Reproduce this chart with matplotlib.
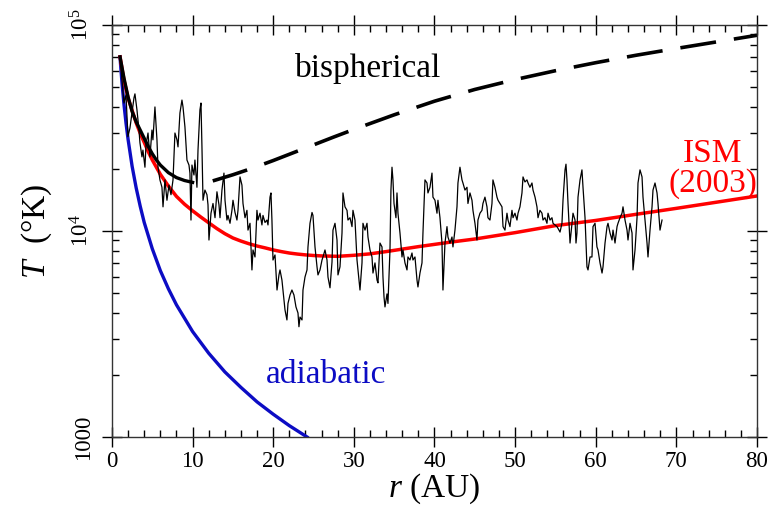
import numpy as np
import matplotlib
matplotlib.use("Agg")
import matplotlib.pyplot as plt
from matplotlib.ticker import LogLocator, NullFormatter

plt.rcParams["font.family"] = ["Liberation Serif", "DejaVu Serif"]
plt.rcParams["mathtext.fontset"] = "custom"
plt.rcParams["mathtext.rm"] = "Liberation Serif"
plt.rcParams["mathtext.it"] = "Liberation Serif:italic"

# -------- observed temperature (noisy trace) --------
r_obs = [
    0.99, 1.24, 1.49, 1.74, 1.98, 2.23, 2.48, 2.73, 2.85, 3.10,
    3.35, 3.47, 3.72, 3.84, 4.09, 4.22, 4.47, 4.71, 4.96, 5.08,
    5.33, 5.58, 5.71, 5.95, 6.20, 6.33, 6.57, 6.82, 7.07, 7.32,
    7.57, 7.81, 8.06, 8.19, 8.43, 8.68, 8.81, 9.05, 9.30, 9.55,
    9.67, 9.80, 9.92, 10.17, 10.29, 10.54, 10.67, 10.91, 11.04, 11.16,
    11.29, 11.53, 11.78, 11.91, 12.03, 12.28, 12.53, 12.78, 13.02, 13.27,
    13.40, 13.64, 13.89, 14.02, 14.26, 14.39, 14.64, 14.88,
    15.01, 15.26, 15.50, 15.63, 15.88, 16.12, 16.25, 16.50, 16.74, 16.87,
    17.12, 17.36, 17.49, 17.74, 17.98, 18.11, 18.36, 18.60, 18.73, 18.98,
    19.22, 19.35, 19.60, 19.72, 19.84, 19.97, 20.22, 20.47, 20.71, 20.84,
    21.08, 21.46, 21.70, 21.83, 22.08, 22.32, 22.57, 22.82, 23.07, 23.19,
    23.32, 23.57, 23.69, 23.94, 24.19, 24.31, 24.56, 24.81, 24.93, 25.18,
    25.43, 25.55, 25.80, 26.05, 26.17, 26.42, 26.67, 26.79, 27.04, 27.29,
    27.41, 27.66, 27.91, 28.03, 28.28, 28.53, 28.65, 28.90, 29.15, 29.27,
    29.52, 29.77, 29.89, 30.14, 30.39, 30.51, 30.76, 31.01, 31.13, 31.38,
    31.63, 31.75, 32.00, 32.25, 32.37, 32.62, 32.87, 32.99, 33.24, 33.49,
    33.61, 33.74, 33.86, 34.11, 34.23, 34.48, 34.60, 34.73, 34.85, 34.98,
    35.22, 35.35, 35.47, 35.72, 35.97, 36.09, 36.34, 36.59, 36.71, 36.96,
    37.21, 37.33, 37.58, 37.83, 37.95, 38.20, 38.45, 38.57, 38.82, 39.07,
    39.19, 39.44, 39.69, 39.81, 40.06, 40.31, 40.43, 40.68, 40.93, 41.05,
    41.18, 41.30, 41.55, 41.67, 41.92, 42.17, 42.29, 42.54, 42.79, 42.91,
    43.16, 43.41, 43.53, 43.78, 44.03, 44.15, 44.40, 44.65, 44.77, 45.02,
    45.27, 45.39, 45.64, 45.89, 46.01, 46.26, 46.51, 46.63, 46.88, 47.13,
    47.25, 47.50, 47.75, 47.88, 48.12, 48.37, 48.50, 48.74, 48.99, 49.12,
    49.36, 49.61, 49.74, 49.98, 50.23, 50.36, 50.60, 50.85, 50.98, 51.22,
    51.47, 51.60, 51.84, 52.09, 52.22, 52.47, 52.71, 52.84, 53.08, 53.33,
    53.46, 53.70, 53.95, 54.08, 54.33, 54.57, 54.70, 54.95, 55.19, 55.32,
    55.57, 55.81, 55.94, 56.19, 56.31, 56.43, 56.56, 56.81, 57.05, 57.18,
    57.43, 57.55, 57.67, 57.80, 58.05, 58.29, 58.42, 58.67, 58.91, 59.04,
    59.29, 59.53, 59.66, 59.91, 60.15, 60.28, 60.53, 60.78, 60.90, 61.15,
    61.40, 61.52, 61.77, 62.02, 62.14, 62.39, 62.64, 62.76, 63.01, 63.26,
    63.38, 63.63, 63.88, 64.00, 64.25, 64.50, 64.62, 64.87, 65.12, 65.24,
    65.49, 65.74, 65.86, 66.11, 66.36, 66.48, 66.73, 66.98, 67.10, 67.35,
    67.60, 67.72, 67.97, 68.22,
]
T_obs = [
    69900, 54100, 41800, 45800, 28700, 31600, 37400, 44300, 46300, 38700,
    30900, 26800, 22900, 24700, 20400, 26200, 29900, 22900, 30900, 27700,
    40000, 27700, 20400, 17700, 16300, 13100, 17700, 14100, 16700, 15000,
    17700, 29900, 27700, 25600, 37400, 43200, 40000, 32000, 22100, 20900,
    19100, 11300, 20900, 18700, 22100, 16300, 24700, 38700, 41800, 25600,
    14100, 15800, 15000, 13400, 9040, 12200, 13600, 11600, 15500, 13400,
    11600, 15800, 19100, 14100, 11300, 11900, 10900, 12600,
    14100, 12300, 11300, 12600, 18300, 16700, 13600, 11600, 12600, 10100,
    10900, 6470, 8090, 7480, 12600, 11300, 12200, 10700, 11900, 11000,
    11300, 10700, 14600, 15300, 11300, 7230, 7650, 5170, 6120, 6470,
    5780, 4140, 3700, 4450, 4890, 5170, 4890, 4280, 4000, 3430,
    3820, 3700, 5170, 5980, 6470, 8370, 10900, 12300, 11900, 8370,
    6700, 6120, 6470, 7230, 7480, 8090, 7230, 5980, 5300, 7070,
    10100, 10900, 9040, 6120, 6700, 9780, 15300, 13100, 12600, 11300,
    11600, 10500, 12600, 11300, 7230, 6470, 5170, 7000, 10900, 10100,
    10900, 9350, 8090, 7480, 6250, 7000, 5780, 5600, 8740, 8370,
    5980, 4780, 4280, 4950, 4450, 8090, 15800, 20400, 17700, 13600,
    11600, 15300, 12200, 9780, 7480, 8090, 7000, 6470, 7480, 7230,
    7820, 7230, 7480, 5780, 5350, 6250, 7000, 9780, 17700, 17100,
    15300, 16300, 19100, 14600, 14100, 12200, 14100, 11600, 8740, 5170,
    6700, 8740, 10500, 9350, 8740, 9350, 8370, 10100, 13100, 17100,
    20400, 17700, 17100, 15800, 16300, 13600, 15300, 14100, 12600, 10900,
    9040, 11300, 12200, 12600, 13600, 14600, 13100, 11600, 11300, 13600,
    17700, 16300, 14600, 14100, 13600, 13100, 10500, 10100, 12200, 11300,
    10500, 12600, 11600, 12200, 11300, 12200, 13100, 15300, 18300, 17300,
    17700, 17100, 16300, 17100, 15800, 14600, 13100, 11600, 12600, 12200,
    11300, 11600, 10900, 12200, 11300, 11600, 10900, 10700, 10500, 10300,
    9880, 10900, 14100, 19800, 21100, 17700, 13600, 8740, 10900, 12200,
    11300, 8740, 9780, 14600, 17700, 19800, 16300, 11600, 6700, 6470,
    7480, 7480, 10500, 10900, 8370, 8090, 7000, 6250, 6700, 8740,
    10500, 10900, 9780, 9040, 10100, 8740, 10500, 10900, 11600, 12200,
    13100, 11300, 10100, 9040, 10900, 9780, 6470, 8090, 11600, 17100,
    19800, 18300, 14600, 11300, 8740, 7480, 10100, 13100, 15800, 17100,
    15300, 13600, 10100, 11300,
]

# -------- model curves --------
r_ism = [1, 1.5, 2, 2.5, 3, 3.5, 4, 4.5, 5, 5.5, 6, 7, 8, 9, 10, 11, 12, 13,
         14, 15, 16, 17, 18, 19, 20, 21, 22, 23, 24, 25, 26, 28, 30, 32, 34,
         36, 38, 40, 42, 45, 50, 55, 60, 65, 70, 75, 80]
T_ism = [70000, 53700, 44160, 38460, 33500, 29850, 26920, 24270, 22130,
         20420, 18840, 16520, 14720, 13490, 12530, 11700, 10960, 10280, 9705,
         9247, 8933, 8670, 8453, 8279, 8091, 7943, 7816, 7727, 7656, 7603,
         7568, 7534, 7621, 7745, 7943, 8166, 8395, 8610, 8831, 9141, 9817,
         10620, 11250, 12050, 12880, 13800, 14790]

r_adiab = [1.0, 1.1, 1.25, 1.5, 1.75, 2.0, 2.5, 3.0, 3.5, 4.0, 5.0, 6.0, 7.0,
           8.0, 10.0, 12.0, 14.0, 16.0, 18.0, 20.0, 22.0, 24.2]
T_adiab = [70000, 61700, 52000, 40800, 33200, 27800, 20600, 16200, 13200,
           11000, 8200, 6420, 5240, 4380, 3250, 2550, 2070, 1740, 1480, 1290,
           1135, 1000]

r_bi_in = [1, 1.5, 2, 2.5, 3, 3.5, 4, 4.5, 5, 5.5, 6, 7, 8, 9, 10]
T_bi_in = [70000, 54950, 44670, 38020, 33880, 30900, 28180, 25700, 23710,
           22130, 20890, 19190, 18160, 17580, 17220]

r_bi_out = [12.5, 15, 17.5, 20, 22.5, 25, 27.5, 30, 35, 40, 45, 50, 55, 60,
            65, 70, 75, 80]
T_bi_out = [17500, 18750, 20230, 21980, 23990, 26180, 28580, 31120, 36640,
            42660, 48640, 54330, 59980, 65610, 71290, 76910, 82790, 89130]

x_major = [0, 10, 20, 30, 40, 50, 60, 70, 80]
y_major = [1000, 1e4, 1e5]
y_labels = ["1000", r"$10^4$", r"$10^5$"]

BLUE = "#0c0cc4"
RED = "#ff0000"

fig = plt.figure(figsize=(7.83, 5.14), dpi=100)
ax = fig.add_axes([0.1430, 0.1498, 0.8238, 0.8016])

ax.plot(r_adiab, T_adiab, color=BLUE, lw=2.4)
ax.plot(r_ism, T_ism, color=RED, lw=2.5)
ax.plot(r_bi_in, T_bi_in, color="black", lw=2.4)
ax.plot(r_bi_out, T_bi_out, color="black", lw=2.6, dashes=(10, 5))
ax.plot(r_obs, T_obs, color="black", lw=0.9)

ax.set_yscale("log")
ax.set_xlim(0, 80)
ax.set_ylim(1000, 1e5)

ax.set_xticks(x_major)
ax.set_xticks(np.arange(0, 81, 2), minor=True)
ax.set_yticks(y_major)
ax.set_yticklabels(y_labels)
ax.yaxis.set_minor_locator(LogLocator(base=10, subs=range(2, 10)))
ax.yaxis.set_minor_formatter(NullFormatter())

ax.tick_params(which="major", direction="inout", length=14, width=1,
               top=True, right=True, labelsize=16.5, pad=3)
ax.tick_params(which="minor", direction="in", length=5, width=1,
               top=True, right=True)
ax.tick_params(axis="y", which="major", labelrotation=90, pad=6)
for lab in ax.get_yticklabels():
    lab.set_va("center")

for sp in ax.spines.values():
    sp.set_linewidth(1)
    sp.set_color("#333333")

ax.set_xlabel(r"$r$ (AU)", fontsize=24, labelpad=0)
ax.set_ylabel(r"$T$  (°K)", fontsize=24, labelpad=12)

ax.text(31.75, 61800, "bispherical", fontsize=24, ha="center", va="center")
ax.text(74.5, 20000, "ISM\n(2003)", color=RED, fontsize=24,
        ha="center", va="center", linespacing=0.95)
ax.text(26.5, 2000, "adiabatic", color=BLUE, fontsize=24,
        ha="center", va="center")

fig.savefig("out.png", dpi=100)
